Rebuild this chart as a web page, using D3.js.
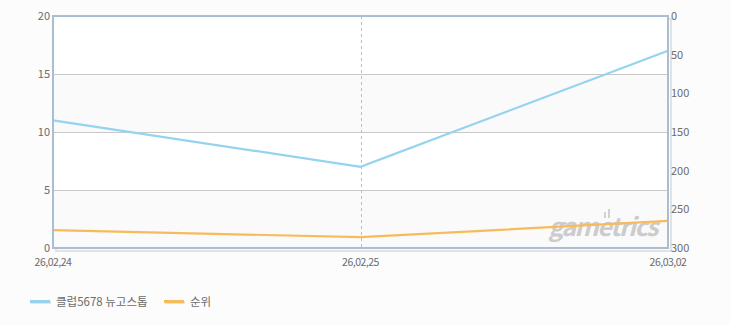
<!DOCTYPE html>
<html>
<head>
<meta charset="utf-8">
<script src="https://cdn.jsdelivr.net/npm/d3@7"></script>
<style>
  body { margin: 0; background: #fcfcfc; }
  svg { display: block; }
  text { font-family: "Noto Sans CJK KR", "DejaVu Sans", sans-serif; }
</style>
</head>
<body>
<svg id="chart"></svg>
<script>
// 데이터
const dates = ["26,02,24", "26,02,25", "26,03,02"];
const users = [11, 7, 17];        // 왼쪽 축
const ranks = [277, 286, 265];    // 오른쪽 축 (역순)
const leftTicks = [0, 5, 10, 15, 20];
const rightTicks = [0, 50, 100, 150, 200, 250, 300];
const seriesNames = ["클럽5678 뉴고스톱", "순위"];
const seriesColors = ["#95d3f0", "#f8bb5c"];

const width = 730, height = 325;
const margin = { top: 16, right: 62, bottom: 77, left: 53 };
const innerW = width - margin.left - margin.right;
const innerH = height - margin.top - margin.bottom;

const svg = d3.select("#chart").attr("width", width).attr("height", height);

const x = d3.scalePoint().domain(dates).range([margin.left, margin.left + innerW]);
const yL = d3.scaleLinear().domain([0, 20]).range([margin.top + innerH, margin.top]);
const yR = d3.scaleLinear().domain([0, 300]).range([margin.top, margin.top + innerH]);

// 배경 띠
const bands = svg.append("g");
d3.range(0, 20, 5).forEach((v, i) => {
  bands.append("rect")
    .attr("x", margin.left)
    .attr("y", yL(v + 5))
    .attr("width", innerW)
    .attr("height", yL(v) - yL(v + 5))
    .attr("fill", i % 2 === 0 ? "#fafafa" : "#ffffff");
});

// 그림자
svg.append("rect")
  .attr("x", margin.left + 3).attr("y", margin.top + 3)
  .attr("width", innerW).attr("height", innerH)
  .attr("fill", "none").attr("stroke", "#e2e2e2").attr("stroke-width", 2)
  .lower();

// 격자선
svg.append("g")
  .selectAll("line")
  .data([5, 10, 15])
  .enter()
  .append("line")
  .attr("x1", margin.left).attr("x2", margin.left + innerW)
  .attr("y1", (d) => yL(d) + 0.5).attr("y2", (d) => yL(d) + 0.5)
  .attr("stroke", "#c8c8c8");

// 세로 점선
svg.append("line")
  .attr("x1", Math.round(x(dates[1])) + 0.5).attr("x2", Math.round(x(dates[1])) + 0.5)
  .attr("y1", margin.top).attr("y2", margin.top + innerH)
  .attr("stroke", "#bdbdbd").attr("stroke-dasharray", "3,3");

// 워터마크
const wm = svg.append("g");
wm.append("text")
  .attr("x", 657).attr("y", 236)
  .attr("text-anchor", "end")
  .attr("font-family", "DejaVu Sans")
  .attr("font-size", 25)
  .attr("font-weight", "bold")
  .attr("font-style", "italic")
  .attr("letter-spacing", "-1.5")
  .attr("fill", "#cccccc")
  .text("gametrics");
wm.append("rect").attr("x", 604).attr("y", 212).attr("width", 2).attr("height", 6).attr("fill", "#d2d2d2");
wm.append("rect").attr("x", 608).attr("y", 209).attr("width", 2).attr("height", 9).attr("fill", "#d2d2d2");

// 선
const lineL = d3.line().x((d, i) => x(dates[i])).y((d) => yL(d));
const lineR = d3.line().x((d, i) => x(dates[i])).y((d) => yR(d));

svg.append("path").datum(ranks)
  .attr("d", lineR).attr("fill", "none")
  .attr("stroke", seriesColors[1]).attr("stroke-width", 2.2);
svg.append("path").datum(users)
  .attr("d", lineL).attr("fill", "none")
  .attr("stroke", seriesColors[0]).attr("stroke-width", 2.2);

// 테두리
svg.append("rect")
  .attr("x", margin.left).attr("y", margin.top)
  .attr("width", innerW).attr("height", innerH)
  .attr("fill", "none").attr("stroke", "#a9bdd3").attr("stroke-width", 2);

// 축 라벨
const labelColor = "#6b6b6b";
svg.append("g").selectAll("text")
  .data(leftTicks).enter().append("text")
  .attr("x", margin.left - 3).attr("y", (d) => yL(d) + 4)
  .attr("text-anchor", "end").attr("font-size", 11).attr("fill", labelColor)
  .text((d) => d);

svg.append("g").selectAll("text")
  .data(rightTicks).enter().append("text")
  .attr("x", margin.left + innerW + 3).attr("y", (d) => yR(d) + 4)
  .attr("text-anchor", "start").attr("font-size", 11).attr("fill", labelColor)
  .text((d) => d);

svg.append("g").selectAll("text")
  .data(dates).enter().append("text")
  .attr("x", (d) => x(d)).attr("y", margin.top + innerH + 18)
  .attr("text-anchor", "middle").attr("font-size", 10.5).attr("fill", labelColor)
  .attr("letter-spacing", "-0.5")
  .text((d) => d);

// 범례
const legendX = [30, 164];
seriesNames.forEach((name, i) => {
  const g = svg.append("g").attr("transform", `translate(${legendX[i]},302)`);
  g.append("rect").attr("x", 1).attr("y", -1).attr("width", 20).attr("height", 3).attr("fill", "#e4e4e4");
  g.append("rect").attr("x", 0).attr("y", -2).attr("width", 20).attr("height", 3).attr("fill", seriesColors[i]);
  g.append("text").attr("x", 26).attr("y", 4)
    .attr("font-size", 11.5).attr("fill", labelColor).text(name);
});
</script>
</body>
</html>
